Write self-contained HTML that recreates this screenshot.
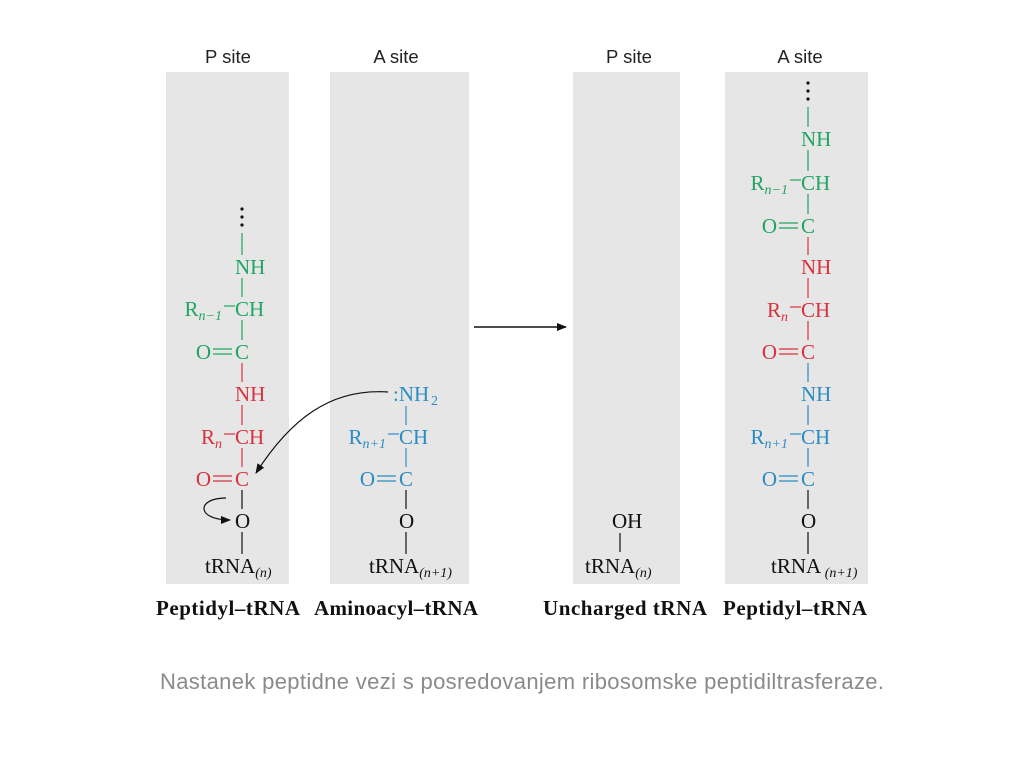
<!DOCTYPE html>
<html><head><meta charset="utf-8"><style>
html,body{margin:0;padding:0;background:#fff;width:1024px;height:768px;overflow:hidden}
svg{display:block}
.sans{font-family:"Liberation Sans",sans-serif}
.serif{font-family:"Liberation Serif",serif}
</style></head><body>
<svg id="fig" width="1024" height="768" viewBox="0 0 1024 768">
<defs>
<marker id="ah" markerWidth="10" markerHeight="8" refX="9" refY="4" orient="auto" markerUnits="userSpaceOnUse"><path d="M0,0 L10,4 L0,8 Z" fill="#111"/></marker>
</defs>
<rect x="166" y="72" width="123" height="512" fill="#e6e6e6"/>
<rect x="330" y="72" width="139" height="512" fill="#e6e6e6"/>
<rect x="573" y="72" width="107" height="512" fill="#e6e6e6"/>
<rect x="725" y="72" width="143" height="512" fill="#e6e6e6"/>
<g class="sans" font-size="18.5" fill="#222" text-anchor="middle">
<text x="228" y="63">P site</text>
<text x="396" y="63">A site</text>
<text x="629" y="63">P site</text>
<text x="800" y="63">A site</text>
</g>
<g class="serif" font-size="21" font-weight="bold" fill="#111" text-anchor="middle">
<text x="228" y="615" textLength="144">Peptidyl–tRNA</text>
<text x="396" y="615" textLength="164">Aminoacyl–tRNA</text>
<text x="625" y="615" textLength="164">Uncharged tRNA</text>
<text x="795" y="615" textLength="144">Peptidyl–tRNA</text>
</g>
<text class="sans" x="522" y="689" font-size="22" textLength="724" fill="#8a8a8a" text-anchor="middle">Nastanek peptidne vezi s posredovanjem ribosomske peptidiltrasferaze.</text>
<line x1="474" y1="327" x2="566" y2="327" stroke="#111" stroke-width="1.5" marker-end="url(#ah)"/>
<path d="M388,392 C330,388 290,420 256,473" fill="none" stroke="#111" stroke-width="1.2" marker-end="url(#ah)"/>
<path d="M226,498 C196,498 196,520 230,520" fill="none" stroke="#111" stroke-width="1.2" marker-end="url(#ah)"/>
<g id="chains" class="serif" font-size="21"></g>
</svg>
<script>
const G='#22a462',R='#d7323f',B='#2b8cc4',K='#111';
const NS='http://www.w3.org/2000/svg';
const root=document.getElementById('chains');
function mk(tag,attrs,parent){const e=document.createElementNS(NS,tag);for(const k in attrs)e.setAttribute(k,attrs[k]);(parent||root).appendChild(e);return e;}
function label(x,y,txt,sub,color,anchor){
  const t=mk('text',{x:x,y:y,fill:color,'text-anchor':anchor||'start'});
  
  
  t.appendChild(document.createTextNode(txt));
  if(sub){const s=mk('tspan',{'font-size':14,dy:4,'font-style':'italic'},t);s.textContent=sub;}
  return t;
}
function line(x1,y1,x2,y2,c){
  const l=mk('line',{x1:x1,y1:y1,x2:x2,y2:y2,stroke:c,'stroke-width':1.2});
  
  
}
function chain(X,dotsY,atoms){
  if(dotsY!==null){
    for(let i=0;i<3;i++){const d=mk('circle',{cx:X,cy:dotsY+i*8,r:1.6,fill:K});
      
      }
  }
  let prev=dotsY!==null?dotsY+24:null;
  atoms.forEach(a=>{
    if(prev!==null) line(X,prev,X,a.y-12,a.c);
    if(a.t==='tRNA'){label(X-37,a.y+7,'tRNA',a.sub,K);}
    else label(X-7,a.y+7,a.t,null,a.c);
    if(a.R){label(X-20,a.y+7,'R',a.R,a.c,'end');line(X-18,a.y-3,X-7,a.y-3,a.c);}
    if(a.O){label(X-31,a.y+7,'O',null,a.c,'end');line(X-29,a.y-3,X-10,a.y-3,a.c);line(X-29,a.y+2,X-10,a.y+2,a.c);}
    prev=a.y+11;
  });
}
chain(242,209,[
 {y:267,t:'NH',c:G},{y:309,t:'CH',c:G,R:'n−1'},{y:352,t:'C',c:G,O:1},
 {y:394,t:'NH',c:R},{y:437,t:'CH',c:R,R:'n'},{y:479,t:'C',c:R,O:1},
 {y:521,t:'O',c:K},{y:566,t:'tRNA',c:K,sub:'(n)'}]);
label(393,401,':NH',null,B);
const s2=label(431,405,'',null,B);s2.setAttribute('font-size','14');s2.textContent='2';
chain(406,null,[
 {y:437,t:'CH',c:B,R:'n+1'},{y:479,t:'C',c:B,O:1},
 {y:521,t:'O',c:K},{y:566,t:'tRNA',c:K,sub:'(n+1)'}]);
line(406,406,406,425,B);
label(612,528,'OH',null,K);
line(620,533,620,552,K);
label(585,573,'tRNA','(n)',K);
chain(808,83,[
 {y:139,t:'NH',c:G},{y:183,t:'CH',c:G,R:'n−1'},{y:226,t:'C',c:G,O:1},
 {y:267,t:'NH',c:R},{y:310,t:'CH',c:R,R:'n'},{y:352,t:'C',c:R,O:1},
 {y:394,t:'NH',c:B},{y:437,t:'CH',c:B,R:'n+1'},{y:479,t:'C',c:B,O:1},
 {y:521,t:'O',c:K},{y:566,t:'tRNA',c:K,sub:' (n+1)'}]);
</script>
</body></html>
